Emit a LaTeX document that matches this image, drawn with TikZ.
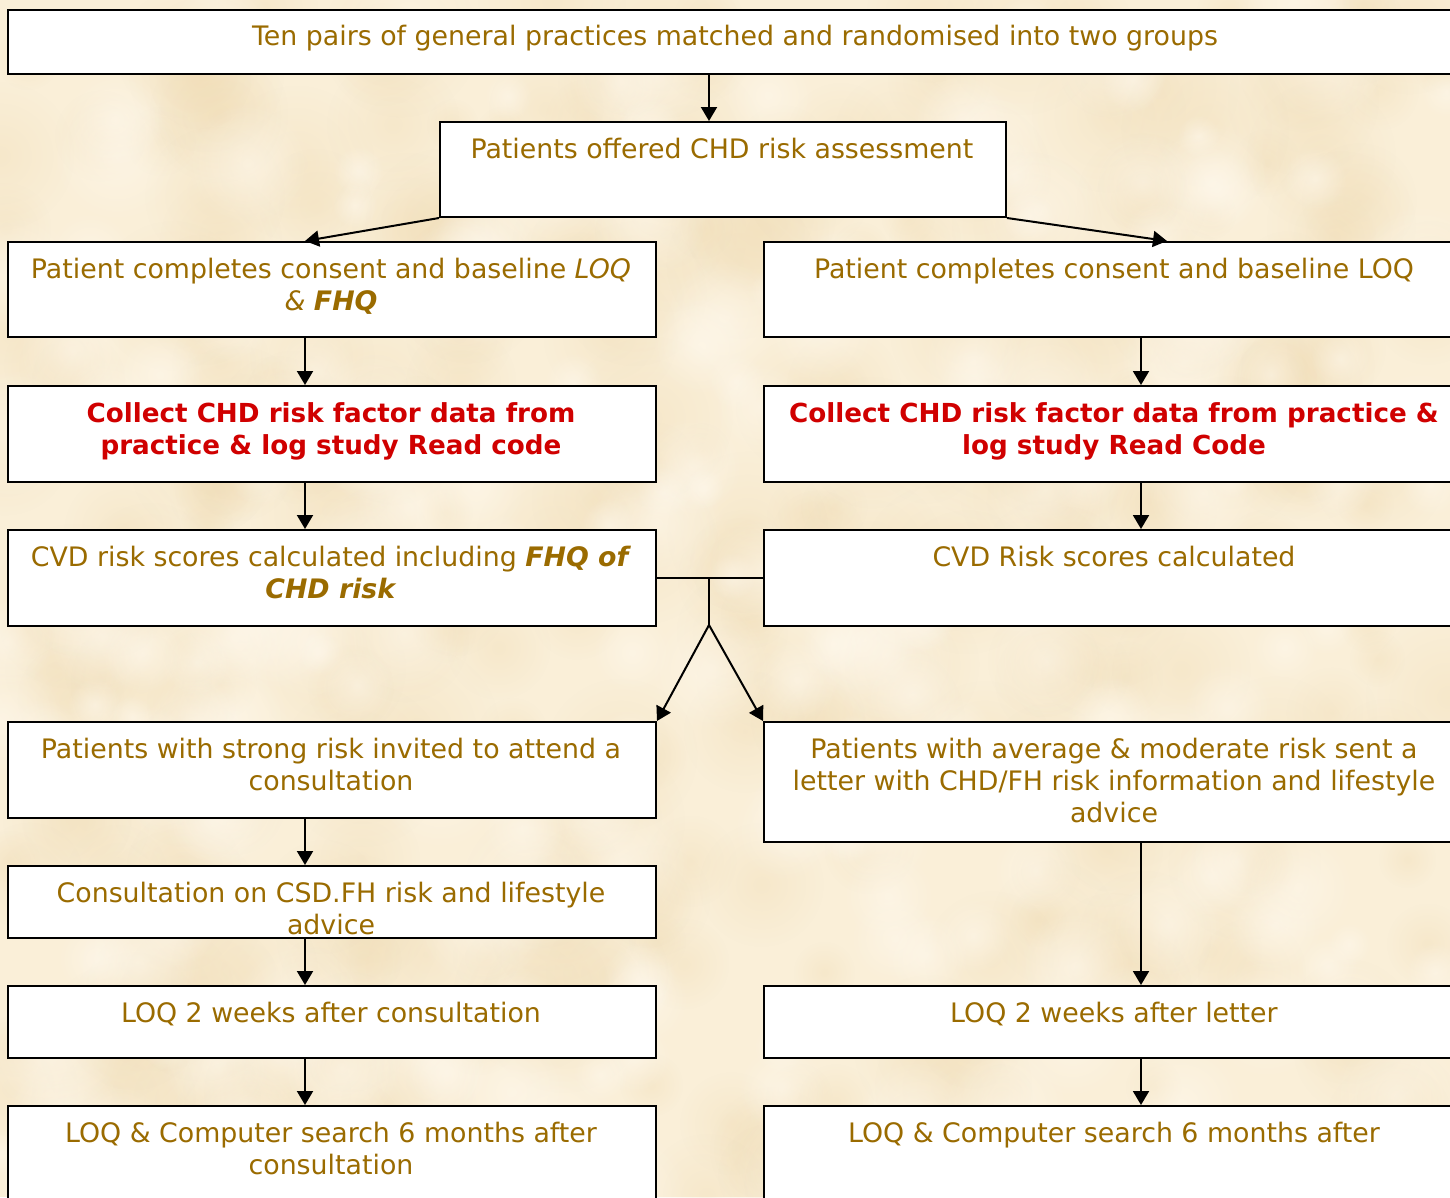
\documentclass[tikz,border=0pt]{standalone}
\usepackage{fontspec}
\setmainfont{DejaVu Sans}
\usetikzlibrary{arrows.meta,fadings}
\definecolor{parch}{HTML}{FAEFD8}
\definecolor{parchdark}{HTML}{F0DBB2}
\definecolor{parchlight}{HTML}{FFF9EE}
\definecolor{olive}{HTML}{9A6B00}
\definecolor{alert}{HTML}{D00000}
\tikzfading[name=softspot, inner color=transparent!0, outer color=transparent!100]
\tikzset{
  box/.style={draw=black, line width=2pt, fill=white, inner sep=0pt, anchor=north west},
  txt/.style={text=olive, font=\fontsize{26.8}{32}\selectfont, align=center, inner sep=0pt, anchor=base},
  redtxt/.style={txt, text=alert, font=\fontsize{26.2}{32}\selectfont\bfseries},
  arr/.style={line width=2pt, -{Triangle[length=14pt,width=16pt]}},
  ln/.style={line width=2pt}
}
\newcommand{\boxat}[5]{% name, x0, y0, x1, y1
  \node[box, minimum width=#4pt-#2pt, minimum height=#5pt-#3pt] (#1) at (#2,#3) {};}
\begin{document}
\begin{tikzpicture}[x=1pt, y=-1pt]
  \useasboundingbox (0,0) rectangle (1450,1197);
  \fill[parch] (0,0) rectangle (1450,1197);
  \clip (0,0) rectangle (1450,1197);
  % mottled parchment
  \pgfmathsetseed{7}
  \foreach \i in {1,...,320}{
    \pgfmathsetmacro{\px}{rnd*1450}
    \pgfmathsetmacro{\py}{rnd*1197}
    \pgfmathsetmacro{\pr}{25+rnd*60}
    \fill[parchdark, path fading=softspot, fill opacity=0.35] (\px,\py) circle[radius=\pr];
  }
  \foreach \i in {1,...,220}{
    \pgfmathsetmacro{\px}{rnd*1450}
    \pgfmathsetmacro{\py}{rnd*1197}
    \pgfmathsetmacro{\pr}{20+rnd*50}
    \fill[parchlight, path fading=softspot, fill opacity=0.55] (\px,\py) circle[radius=\pr];
  }

  % boxes
  \boxat{top}{7}{9}{1463}{73}
  \boxat{offer}{439}{121}{1005}{216}
  \boxat{lA}{7}{241}{655}{336}
  \boxat{rA}{763}{241}{1465}{336}
  \boxat{lB}{7}{385}{655}{481}
  \boxat{rB}{763}{385}{1465}{481}
  \boxat{lC}{7}{529}{655}{625}
  \boxat{rC}{763}{529}{1465}{625}
  \boxat{lD}{7}{721}{655}{817}
  \boxat{rD}{763}{721}{1465}{841}
  \boxat{lE}{7}{865}{655}{937}
  \boxat{lF}{7}{985}{655}{1057}
  \boxat{rF}{763}{985}{1465}{1057}
  \boxat{lG}{7}{1105}{655}{1240}
  \boxat{rG}{763}{1105}{1465}{1240}

  % texts (anchor at the baseline of the last line)
  \node[txt] (ttop) at (735,45) {Ten pairs of general practices matched and randomised into two groups};
  \node[txt] (toffer) at (722,158) {Patients offered CHD risk assessment};
  \node[txt] (tlA) at (331,310) {Patient completes consent and baseline \textit{LOQ}\\\textit{\& \textbf{FHQ}}};
  \node[txt] (trA) at (1114,278) {Patient completes consent and baseline LOQ};
  \node[redtxt] (tlB) at (331,454) {Collect CHD risk factor data from\\practice \& log study Read code};
  \node[redtxt] (trB) at (1114,454) {Collect CHD risk factor data from practice \&\\log study Read Code};
  \node[txt] (tlC) at (331,598) {CVD risk scores calculated including \textbf{\textit{FHQ of}}\\\textbf{\textit{CHD risk}}};
  \node[txt] (trC) at (1114,566) {CVD Risk scores calculated};
  \node[txt] (tlD) at (331,790) {Patients with strong risk invited to attend a\\consultation};
  \node[txt] (trD) at (1114,822) {Patients with average \& moderate risk sent a\\letter with CHD/FH risk information and lifestyle\\advice};
  \node[txt] (tlE) at (331,934) {Consultation on CSD.FH risk and lifestyle\\advice};
  \node[txt] (tlF) at (331,1022) {LOQ 2 weeks after consultation};
  \node[txt] (trF) at (1114,1022) {LOQ 2 weeks after letter};
  \node[txt] (tlG) at (331,1174) {LOQ \& Computer search 6 months after\\consultation};
  \node[txt] (trG) at (1114,1142) {LOQ \& Computer search 6 months after};

  % connector columns
  \coordinate (mid) at (709,0);
  \coordinate (lx) at (305,0);
  \coordinate (rx) at (1141,0);
  \coordinate (rxa) at (1167,0);

  \draw[arr] (top.south -| mid) -- (offer.north -| mid);
  \draw[arr] (offer.south west) -- (lA.north -| lx);
  \draw[arr] (offer.south east) -- (rA.north -| rxa);

  \draw[arr] (lA.south -| lx) -- (lB.north -| lx);
  \draw[arr] (lB.south -| lx) -- (lC.north -| lx);
  \draw[arr] (rA.south -| rx) -- (rB.north -| rx);
  \draw[arr] (rB.south -| rx) -- (rC.north -| rx);

  % join of both arms and fork to the risk groups
  \draw[ln] (lC.east) -- (rC.west);
  \coordinate (fork) at (709,625);
  \draw[ln] (lC.east -| mid) -- (fork);
  \draw[arr] (fork) -- (lD.north east);
  \draw[arr] (fork) -- (rD.north west);

  \draw[arr] (lD.south -| lx) -- (lE.north -| lx);
  \draw[arr] (lE.south -| lx) -- (lF.north -| lx);
  \draw[arr] (lF.south -| lx) -- (lG.north -| lx);
  \draw[arr] (rD.south -| rx) -- (rF.north -| rx);
  \draw[arr] (rF.south -| rx) -- (rG.north -| rx);
\end{tikzpicture}
\end{document}
